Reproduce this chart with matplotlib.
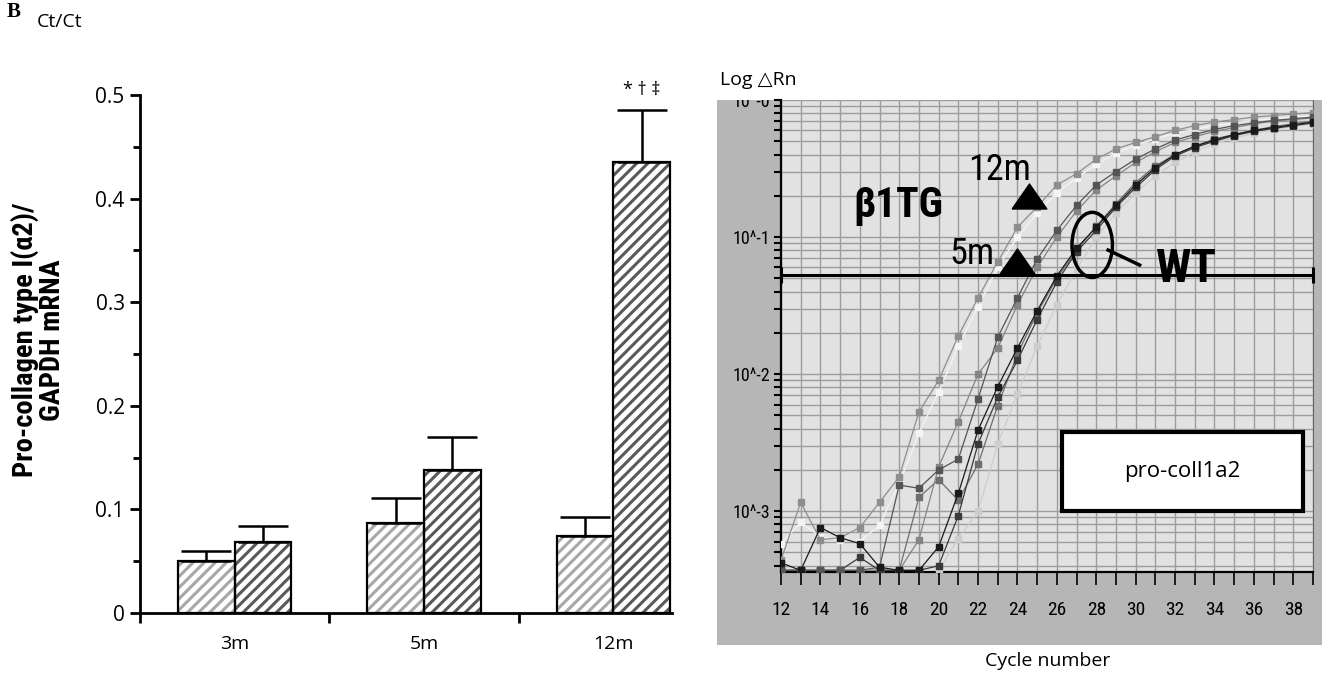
import os
import numpy as np
import matplotlib
matplotlib.use("Agg")
import matplotlib.pyplot as plt
from matplotlib.patches import Rectangle, Ellipse
from matplotlib.ticker import FixedLocator, NullFormatter, FixedFormatter
from matplotlib import font_manager
from matplotlib.font_manager import FontProperties

# ---------------- data ----------------
groups = ["3m", "5m", "12m"]
wt_values = [0.050, 0.087, 0.074]
wt_errors = [0.010, 0.024, 0.019]
tg_values = [0.069, 0.138, 0.435]
tg_errors = [0.015, 0.032, 0.051]
signif_text = "* † ‡"

cycles = list(range(12, 40))
tg12_gray = [4.4e-4, 1.16e-3, 6.2e-4, 6.4e-4, 7.6e-4, 1.16e-3, 1.78e-3, 5.3e-3, 9.0e-3, 0.019, 0.036, 0.066,
             0.118, 0.166, 0.24, 0.29, 0.37, 0.44, 0.49, 0.54, 0.60, 0.65, 0.69, 0.72, 0.75, 0.77, 0.79, 0.81]
tg12_light = [5.8e-4, 8.3e-4, 6.5e-4, 6.2e-4, 6.0e-4, 7.9e-4, 1.6e-3, 3.7e-3, 7.4e-3, 0.016, 0.031, 0.060,
              0.10, 0.15, 0.21, 0.27, 0.34, 0.41, 0.47, 0.52, 0.57, 0.61, 0.65, 0.68, 0.71, 0.73, 0.75, 0.77]
tg5_dark = [3.7e-4, 3.7e-4, 3.7e-4, 3.7e-4, 3.7e-4, 3.9e-4, 1.55e-3, 1.47e-3, 2.0e-3, 2.4e-3, 6.6e-3, 0.0186,
            0.036, 0.069, 0.112, 0.17, 0.24, 0.30, 0.37, 0.44, 0.51, 0.56, 0.61, 0.65, 0.68, 0.71, 0.73, 0.75]
tg5_gray = [3.7e-4, 3.7e-4, 3.7e-4, 3.7e-4, 3.7e-4, 3.7e-4, 3.7e-4, 6.2e-4, 2.1e-3, 4.5e-3, 0.010, 0.0155,
            0.032, 0.060, 0.10, 0.155, 0.22, 0.28, 0.35, 0.42, 0.49, 0.54, 0.59, 0.63, 0.67, 0.70, 0.72, 0.74]
wt_black = [4.2e-4, 3.7e-4, 7.6e-4, 6.4e-4, 5.8e-4, 3.9e-4, 3.7e-4, 3.7e-4, 5.5e-4, 1.35e-3, 3.9e-3, 8.1e-3,
            0.0155, 0.029, 0.052, 0.083, 0.118, 0.17, 0.24, 0.32, 0.40, 0.46, 0.51, 0.56, 0.60, 0.63, 0.66, 0.69]
wt_dark = [3.7e-4, 3.7e-4, 3.7e-4, 3.7e-4, 4.6e-4, 3.7e-4, 3.7e-4, 3.7e-4, 4.0e-4, 9.3e-4, 3.1e-3, 6.8e-3,
           0.0126, 0.025, 0.047, 0.078, 0.112, 0.165, 0.23, 0.31, 0.39, 0.45, 0.50, 0.55, 0.59, 0.62, 0.65, 0.68]
wt_mid = [3.7e-4, 3.7e-4, 3.7e-4, 3.7e-4, 3.7e-4, 3.7e-4, 3.7e-4, 1.26e-3, 1.7e-3, 1.2e-3, 2.2e-3, 5.9e-3,
          0.014, 0.028, 0.050, 0.080, 0.12, 0.175, 0.25, 0.33, 0.40, 0.46, 0.52, 0.56, 0.60, 0.64, 0.67, 0.70]
wt_light = [3.7e-4, 3.7e-4, 3.7e-4, 3.7e-4, 3.7e-4, 3.7e-4, 3.7e-4, 3.7e-4, 3.7e-4, 6.3e-4, 1.0e-3, 3.1e-3,
            7.2e-3, 0.016, 0.032, 0.058, 0.10, 0.15, 0.21, 0.28, 0.35, 0.42, 0.48, 0.53, 0.57, 0.61, 0.64, 0.67]
curve_series = [tg12_light, wt_light, wt_mid, tg5_gray, tg12_gray, wt_dark, tg5_dark, wt_black]
curve_colors = ["#f4f4f4", "#cdcdcd", "#6e6e6e", "#858585", "#8e8e8e", "#3a3a3a", "#555555", "#1a1a1a"]
threshold = 0.053
log_ticks = [1e-3, 1e-2, 1e-1, 1e0]
log_tick_labels = ["10^-3", "10^-2", "10^-1", "10^-0"]
cycle_ticks = list(range(12, 40, 2))

# ---------------- fonts ----------------
names = {f.name for f in font_manager.fontManager.ttflist}
def pick(*cands):
    for c in cands:
        if c in names:
            return c
    return "DejaVu Sans"

def find_condensed(bold):
    prefs = ["liberation sans narrow", "arial narrow", "roboto condensed", "dejavu sans",
             "noto sans", "open sans", "roboto"]
    best, best_rank = None, 99
    for f in font_manager.fontManager.ttflist:
        fn = os.path.basename(f.fname).lower()
        nm = f.name.lower()
        cond = ("narrow" in fn or "condensed" in fn or "narrow" in nm or "condensed" in nm
                or str(f.stretch) == "condensed")
        if not cond:
            continue
        if any(k in fn for k in ("extra", "ultra", "semi", "mono", "italic", "oblique", "cjk", "light",
                                 "medium", "black", "thin")):
            continue
        if f.style != "normal":
            continue
        w = f.weight if isinstance(f.weight, int) else {"bold": 700}.get(str(f.weight), 400)
        if bold != (w >= 700):
            continue
        if (not bold) and w != 400:
            continue
        rank = 50
        for i, p in enumerate(prefs):
            if nm.startswith(p):
                rank = i
                break
        if rank < best_rank:
            best, best_rank = f.fname, rank
    return best

body = pick("Open Sans", "Lato", "DejaVu Sans")
cond_reg = find_condensed(False)
cond_bold = find_condensed(True)

def fp_reg(size):
    if cond_reg:
        return FontProperties(fname=cond_reg, size=size)
    return FontProperties(family=body, size=size)

def fp_bold(size):
    if cond_bold:
        return FontProperties(fname=cond_bold, size=size)
    return FontProperties(family=body, weight="bold", size=size * 0.85)

plt.rcParams["font.family"] = [body, "DejaVu Sans"]
plt.rcParams["hatch.linewidth"] = 2.2

W, H = 1328, 677
fig = plt.figure(figsize=(W / 100, H / 100), dpi=100)

# ---------------- left bar chart ----------------
ax1 = fig.add_axes([140 / W, (H - 613) / H, 532 / W, 518 / H])
x = np.arange(len(groups))
bw = 0.3
ax1.bar(x - bw / 2, wt_values, bw, color="white", edgecolor="#a8a8a8", hatch="///", linewidth=0, zorder=2)
ax1.bar(x + bw / 2, tg_values, bw, color="white", edgecolor="#595959", hatch="///", linewidth=0, zorder=2)
ax1.bar(x - bw / 2, wt_values, bw, fill=False, edgecolor="black", linewidth=1.6, zorder=3)
ax1.bar(x + bw / 2, tg_values, bw, fill=False, edgecolor="black", linewidth=1.6, zorder=3)
ax1.errorbar(x - bw / 2, wt_values, yerr=[np.zeros(3), wt_errors], fmt="none", ecolor="black",
             elinewidth=1.8, capsize=18, capthick=1.8, zorder=4)
ax1.errorbar(x + bw / 2, tg_values, yerr=[np.zeros(3), tg_errors], fmt="none", ecolor="black",
             elinewidth=1.8, capsize=18, capthick=1.8, zorder=4)
ax1.text(x[2] + bw / 2, tg_values[2] + tg_errors[2] + 0.010, signif_text, ha="center", va="bottom",
         fontsize=13, clip_on=False)
ax1.set_xlim(-0.5, 2.31)
ax1.set_ylim(0, 0.5)
for s in ["top", "right"]:
    ax1.spines[s].set_visible(False)
ax1.spines["left"].set_linewidth(2)
ax1.spines["bottom"].set_linewidth(2)
ax1.set_yticks([0, 0.1, 0.2, 0.3, 0.4, 0.5])
ax1.set_yticklabels(["0", "0.1", "0.2", "0.3", "0.4", "0.5"])
ax1.yaxis.set_minor_locator(FixedLocator([0.05, 0.15, 0.25, 0.35, 0.45]))
ax1.tick_params(axis="y", which="major", length=7, width=2, labelsize=15, pad=4)
ax1.tick_params(axis="y", which="minor", length=5, width=2)
ax1.set_xticks([-0.5, 0.5, 1.5])
ax1.set_xticklabels([])
ax1.xaxis.set_minor_locator(FixedLocator(list(x)))
ax1.xaxis.set_minor_formatter(FixedFormatter(groups))
ax1.tick_params(axis="x", which="major", length=7, width=2)
ax1.tick_params(axis="x", which="minor", length=0, labelsize=14, pad=16)

fig.text(38 / W, 1 - 340 / H, "Pro-collagen type I(α2)/\nGAPDH mRNA", rotation=90, ha="center",
         va="center", fontproperties=fp_bold(20.5), multialignment="center", linespacing=1.0)
fig.text(37 / W, 1 - 22 / H, "Ct/Ct", ha="left", va="center", fontsize=14)
fig.text(7 / W, 1 - 12 / H, "B", ha="left", va="center", fontsize=15, fontweight="bold",
         family=pick("Liberation Serif", "DejaVu Serif"))

# ---------------- right amplification plot ----------------
bg = Rectangle((717 / W, (H - 645) / H), (1322 - 717) / W, (645 - 100) / H, transform=fig.transFigure,
               facecolor="#b6b6b6", edgecolor="none", zorder=-5)
fig.add_artist(bg)

ax2 = fig.add_axes([781 / W, (H - 572) / H, 532 / W, 472 / H])
ax2.set_facecolor("#e2e2e2")
ax2.set_yscale("log")
ax2.set_xlim(12, 39)
ax2.set_ylim(3.6e-4, 1.0)
ax2.set_xticks(cycle_ticks)
ax2.set_xticklabels([str(c) for c in cycle_ticks])
ax2.xaxis.set_minor_locator(FixedLocator([c for c in cycles if c not in cycle_ticks]))
ax2.yaxis.set_major_locator(FixedLocator(log_ticks))
ax2.yaxis.set_major_formatter(FixedFormatter(log_tick_labels))
minors = [m * 10.0 ** e for e in (-4, -3, -2, -1) for m in range(2, 10)]
ax2.yaxis.set_minor_locator(FixedLocator(minors))
ax2.yaxis.set_minor_formatter(NullFormatter())
ax2.grid(True, which="both", color="#9c9c9c", linewidth=1.0)
ax2.set_axisbelow(True)
ax2.tick_params(axis="x", which="both", direction="out", length=9, width=1.2, pad=12)
ax2.tick_params(axis="y", which="both", direction="out", length=5, width=1.5, pad=3)
for lab in ax2.get_xticklabels():
    lab.set_fontproperties(fp_reg(14))
for lab in ax2.get_yticklabels():
    lab.set_fontproperties(fp_reg(13))
for t in ax2.yaxis.get_major_ticks():
    t.label1.set_clip_path(bg)
ax2.spines["top"].set_visible(False)
ax2.spines["right"].set_color("#666666")
ax2.spines["left"].set_linewidth(1.6)
ax2.spines["bottom"].set_linewidth(1.6)

for vals, col in zip(curve_series, curve_colors):
    ax2.plot(cycles, vals, "-", color=col, lw=0.9, marker="s", ms=5, mfc=col, mec=col, zorder=3)

ax2.plot([12, 39], [threshold, threshold], color="black", lw=2.2, marker="|", ms=12, mew=2.2,
         zorder=5, clip_on=False)

flat_tri = [(-1, -0.72), (1, -0.72), (0, 0.72), (-1, -0.72)]
ax2.text(17.96, 0.171, "β1TG", ha="center", va="center", fontproperties=fp_bold(30), zorder=6)
ax2.text(23.1, 0.31, "12m", ha="center", va="center", fontproperties=fp_reg(26), zorder=6)
ax2.text(21.7, 0.075, "5m", ha="center", va="center", fontproperties=fp_reg(26), zorder=6)
ax2.plot([24.6], [0.2], marker=flat_tri, color="black", ms=25, zorder=6)
ax2.plot([23.97], [0.067], marker=flat_tri, color="black", ms=25, zorder=6)
ax2.add_patch(Ellipse((0.585, 0.693), 0.076, 0.138, transform=ax2.transAxes, fill=False,
                      edgecolor="black", lw=2.5, zorder=6))
ax2.plot([28.6, 30.2], [10 ** -1.095, 10 ** -1.204], color="black", lw=2.5, zorder=6)
ax2.text(32.6, 0.058, "WT", ha="center", va="center", fontproperties=fp_bold(34), zorder=6)
ax2.add_patch(Rectangle((0.528, 0.129), 0.453, 0.168, transform=ax2.transAxes, facecolor="white",
                        edgecolor="black", lw=3, zorder=6))
ax2.text(0.7545, 0.213, "pro-coll1a2", transform=ax2.transAxes, ha="center", va="center",
         fontsize=16, zorder=7)

fig.text(720 / W, 1 - 80 / H, "Log △Rn", ha="left", va="center", fontsize=14,
         family=[body, "DejaVu Sans"])
fig.text(1048 / W, 1 - 661 / H, "Cycle number", ha="center", va="center", fontsize=14)

fig.savefig("out.png", dpi=100, facecolor="white")
